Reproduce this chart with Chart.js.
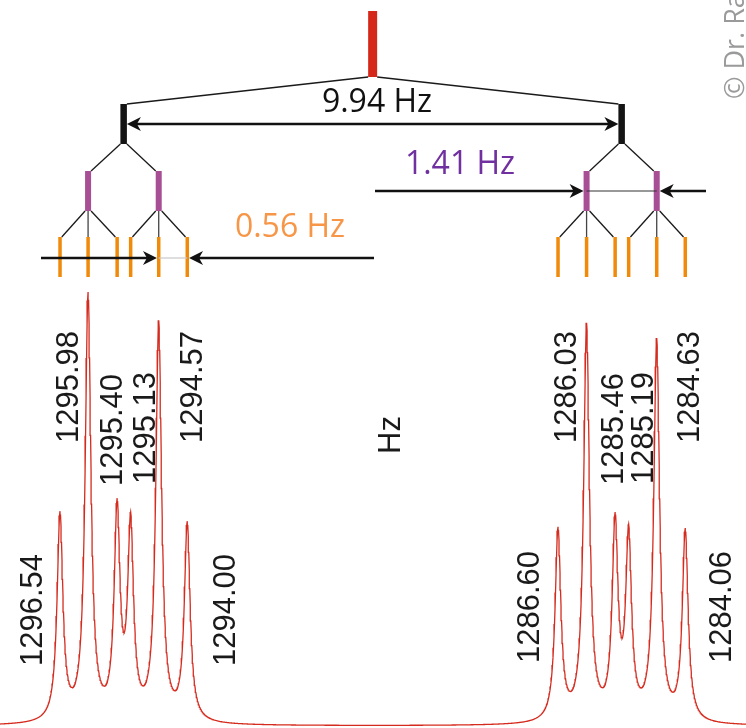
<!DOCTYPE html>
<html>
<head>
<meta charset="utf-8">
<script src="https://cdn.jsdelivr.net/npm/chart.js@4.4.1/dist/chart.umd.min.js"></script>
<style>
  body { margin: 0; background: #fff; }
  #wrap { width: 746px; height: 728px; position: relative; }
</style>
</head>
<body>
<div id="wrap"><canvas id="nmrChart"></canvas></div>
<script>
// peak positions (Hz) and heights (tallest = 100)
const peakHz = [1296.54, 1295.98, 1295.40, 1295.13, 1294.57, 1294.00,
                1286.60, 1286.03, 1285.46, 1285.19, 1284.63, 1284.06];
const peakHeight = [49.5, 100, 52.5, 49.3, 93.5, 47.2,
                    45.9, 92.9, 49.3, 46.5, 89.4, 45.6];
const peakLabels = ["1296.54", "1295.98", "1295.40", "1295.13", "1294.57", "1294.00",
                    "1286.60", "1286.03", "1285.46", "1285.19", "1284.63", "1284.06"];
const lineHalfWidthHz = 0.07;

// splitting tree levels (Hz)
const centerHz = [1290.30];
const doubletHz = [1295.27, 1285.33];
const tripletCenterHz = [1295.98, 1294.57, 1286.03, 1284.63];
const couplingLabels = ["9.94 Hz", "1.41 Hz", "0.56 Hz"];

const axisMinHz = 1282.848;
const axisMaxHz = 1297.738;

// lorentzian line shape; amplitudes corrected so each peak top hits its read height
function lorentz(d) {
  const g = lineHalfWidthHz;
  return (g * g) / (d * d + g * g);
}
const amp = peakHeight.slice();
for (let it = 0; it < 30; it++) {
  for (let i = 0; i < peakHz.length; i++) {
    let s = 0;
    for (let j = 0; j < peakHz.length; j++) s += amp[j] * lorentz(peakHz[i] - peakHz[j]);
    amp[i] += peakHeight[i] - s;
  }
}
const spectrum = [];
for (let k = Math.floor(axisMinHz * 100); k <= Math.ceil(axisMaxHz * 100); k++) {
  const hz = k / 100;
  let s = 0;
  for (let j = 0; j < peakHz.length; j++) s += amp[j] * lorentz(hz - peakHz[j]);
  spectrum.push({ x: hz, y: s });
}

const treePlugin = {
  id: "splittingTree",
  afterDatasetsDraw(chart) {
    const ctx = chart.ctx;
    const xs = chart.scales.x;
    const px = v => xs.getPixelForValue(v);

    const rows = [
      { hz: centerHz, top: 11, bottom: 77, w: 9, color: "#d5281a" },
      { hz: doubletHz, top: 104, bottom: 144, w: 6.5, color: "#141414" },
      { hz: tripletCenterHz, top: 171, bottom: 211, w: 6, color: "#a84e94" },
      { hz: peakHz, top: 237, bottom: 277, w: 3.5, color: "#f08a0a" }
    ];

    ctx.save();
    // connectors
    for (let r = 1; r < rows.length; r++) {
      const par = rows[r - 1], row = rows[r];
      row.hz.forEach((v, k) => {
        const p = par.hz[Math.floor(k * par.hz.length / row.hz.length)];
        const xp = px(p), xc = px(v);
        ctx.beginPath();
        if (Math.abs(xc - xp) < 1.5) {
          ctx.strokeStyle = "#444";
          ctx.lineWidth = 1.3;
          ctx.moveTo(xc, par.bottom);
          ctx.lineTo(xc, row.top);
        } else {
          const s = Math.sign(xc - xp);
          ctx.strokeStyle = "#1a1a1a";
          ctx.lineWidth = 1.3;
          ctx.moveTo(xp + s * par.w / 2, par.bottom);
          ctx.lineTo(xc - s * row.w / 2, row.top);
        }
        ctx.stroke();
      });
    }
    // bars
    rows.forEach(row => {
      ctx.fillStyle = row.color;
      row.hz.forEach(v => {
        ctx.fillRect(px(v) - row.w / 2, row.top, row.w, row.bottom - row.top);
      });
    });

    function line(x1, x2, y, w, color) {
      ctx.beginPath();
      ctx.strokeStyle = color;
      ctx.lineWidth = w;
      ctx.moveTo(x1, y);
      ctx.lineTo(x2, y);
      ctx.stroke();
    }
    function head(tip, y, dir) {
      ctx.beginPath();
      ctx.fillStyle = "#111";
      ctx.moveTo(tip, y);
      ctx.lineTo(tip - dir * 14, y - 7);
      ctx.lineTo(tip - dir * 10, y);
      ctx.lineTo(tip - dir * 14, y + 7);
      ctx.closePath();
      ctx.fill();
    }

    // 9.94 Hz arrow
    const a1 = px(doubletHz[0]) + 3.25, a2 = px(doubletHz[1]) - 3.25;
    line(a1 + 6, a2 - 6, 124, 2.4, "#111");
    head(a1, 124, -1);
    head(a2, 124, 1);

    // 1.41 Hz arrows
    const b1 = px(tripletCenterHz[2]), b2 = px(tripletCenterHz[3]);
    line(b1, b2, 191, 1.2, "#333");
    line(375, b1 - 10, 191, 2.4, "#111");
    head(b1 - 3, 191, 1);
    line(706, b2 + 10, 191, 2.4, "#111");
    head(b2 + 3, 191, -1);

    // 0.56 Hz arrows
    const c1 = px(peakHz[4]), c2 = px(peakHz[5]);
    line(c1, c2, 258, 1.2, "#c8c8c8");
    line(41, c1 - 10, 258, 2.4, "#111");
    head(c1 - 1.75, 258, 1);
    line(374, c2 + 10, 258, 2.4, "#111");
    head(c2 + 1.75, 258, -1);

    // coupling texts
    ctx.font = "32px 'Open Sans'";
    ctx.textAlign = "center";
    ctx.textBaseline = "alphabetic";
    ctx.fillStyle = "#111";
    ctx.fillText(couplingLabels[0], 377, 112);
    ctx.fillStyle = "#7030a0";
    ctx.fillText(couplingLabels[1], 460, 174);
    ctx.fillStyle = "#f79646";
    ctx.fillText(couplingLabels[2], 290, 237);

    // rotated peak labels
    const labelDx = [-18, -10, 5, 24, 43, 48, -19, -11, 8, 24, 42, 46];
    const labelY = [666, 443, 486, 484, 443, 666, 663, 443, 485, 484, 443, 663];
    ctx.textAlign = "left";
    ctx.fillStyle = "#1a1a1a";
    ctx.font = "31px 'Liberation Sans'";
    peakLabels.forEach((t, i) => {
      ctx.save();
      ctx.translate(px(peakHz[i]) + labelDx[i], labelY[i]);
      ctx.rotate(-Math.PI / 2);
      ctx.fillText(t, 0, 0);
      ctx.restore();
    });
    // axis unit
    ctx.save();
    ctx.translate(400, 454);
    ctx.rotate(-Math.PI / 2);
    ctx.fillText("Hz", 0, 0);
    ctx.restore();

    // copyright
    ctx.save();
    ctx.font = "27px 'Open Sans'";
    ctx.fillStyle = "#9a9a9a";
    ctx.translate(744, 99);
    ctx.rotate(-Math.PI / 2);
    ctx.fillText("\u00A9 Dr. Rainer Streubel", 0, 0);
    ctx.restore();

    ctx.restore();
  }
};

new Chart(document.getElementById("nmrChart"), {
  type: "line",
  data: {
    datasets: [
      {
        data: spectrum,
        borderColor: "#d52b1e",
        borderWidth: 1.3,
        pointRadius: 0,
        tension: 0,
        fill: false
      }
    ]
  },
  options: {
    responsive: true,
    maintainAspectRatio: false,
    animation: false,
    layout: { padding: 0 },
    plugins: {
      legend: { display: false },
      tooltip: { enabled: false }
    },
    scales: {
      x: { type: "linear", reverse: true, min: axisMinHz, max: axisMaxHz, display: false },
      y: { min: -0.46, max: 167.3, display: false }
    }
  },
  plugins: [treePlugin]
});
</script>
</body>
</html>
